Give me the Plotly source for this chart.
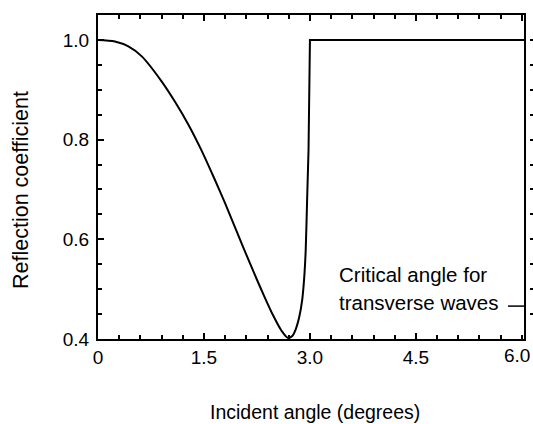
import plotly.graph_objects as go

# Data
# smooth part of the curve
angle_curve = [0.0, 0.24, 0.43, 0.62, 0.90, 1.09, 1.28, 1.46, 1.64, 1.80, 1.96, 2.15,
               2.34, 2.48, 2.60, 2.69, 2.75, 2.80, 2.85, 2.89, 2.92, 2.94, 2.96, 2.98]
refl_curve = [1.0, 0.997, 0.987, 0.967, 0.917, 0.876, 0.830, 0.780, 0.724, 0.672,
              0.617, 0.552, 0.490, 0.447, 0.416, 0.402, 0.406, 0.420, 0.445, 0.478,
              0.525, 0.578, 0.679, 0.779]
# steep rise and the flat plateau (total reflection)
angle_flat = [2.98, 3.0, 6.03]
refl_flat = [0.779, 1.0, 1.0]

x_tickvals = [0, 1.5, 3.0, 4.5, 6.0]
x_ticktext = ["0", "1.5", "3.0", "4.5", ""]
last_tick_label = "6.0"
y_tickvals = [0.4, 0.6, 0.8, 1.0]
y_ticktext = ["0.4", "0.6", "0.8", "1.0"]

critical_angle = 6.03
x_max = 6.03
y_min, y_max = 0.4, 1.05

FONT = "Liberation Sans, Arial, Helvetica, sans-serif"
PAPER_W = 435.0
PAPER_H = 324.0
DOM = 426 / PAPER_W


def px(xp):
    return (xp - 98) / PAPER_W


def py(yp):
    return (339 - yp) / PAPER_H


fig = go.Figure()
fig.add_trace(go.Scatter(x=angle_curve, y=refl_curve, mode="lines",
                         line=dict(color="black", width=2, shape="spline", smoothing=0.8),
                         showlegend=False, hoverinfo="skip"))
fig.add_trace(go.Scatter(x=angle_flat, y=refl_flat, mode="lines",
                         line=dict(color="black", width=2),
                         showlegend=False, hoverinfo="skip"))
# invisible traces to activate the extra tick axes
fig.add_trace(go.Scatter(x=[0], y=[y_min], yaxis="y2", mode="markers",
                         marker=dict(opacity=0), showlegend=False, hoverinfo="skip"))
fig.add_trace(go.Scatter(x=[0], y=[y_min], xaxis="x2", mode="markers",
                         marker=dict(opacity=0), showlegend=False, hoverinfo="skip"))

tick_common = dict(ticks="inside", tickwidth=1.5, tickcolor="black",
                   showgrid=False, zeroline=False, automargin=False)
x_minor = [round(0.3*i, 2) for i in range(1, 21)]
y_minor = [round(0.4 + 0.05*i, 2) for i in range(1, 13)]

fig.update_layout(
    width=533, height=424,
    margin=dict(l=98, r=0, t=15, b=85),
    paper_bgcolor="white", plot_bgcolor="white",
    font=dict(family=FONT, size=19, color="black"),
    xaxis=dict(range=[0, x_max], domain=[0, DOM],
               tickvals=x_tickvals, ticktext=x_ticktext, ticklen=6,
               minor=dict(tickvals=x_minor, ticks="inside", ticklen=4,
                          tickwidth=1.5, tickcolor="black"),
               showline=True, linecolor="black", linewidth=2,
               tickfont=dict(size=19),
               **tick_common),
    xaxis2=dict(range=[0, x_max], domain=[0, DOM], overlaying="x", side="top",
                anchor="y", showticklabels=False,
                tickvals=x_tickvals, ticklen=6,
                minor=dict(tickvals=x_minor, ticks="inside", ticklen=4,
                           tickwidth=1.5, tickcolor="black"),
                showline=True, linecolor="black", linewidth=2,
                **tick_common),
    yaxis=dict(range=[y_min, y_max],
               tickvals=y_tickvals, ticktext=y_ticktext, ticklen=6,
               minor=dict(tickvals=y_minor, ticks="inside",
                          ticklen=4, tickwidth=1.5, tickcolor="black"),
               showline=True, linecolor="black", linewidth=2, mirror=True,
               ticklabelstandoff=3, tickfont=dict(size=19),
               **tick_common),
    yaxis2=dict(range=[y_min, y_max], overlaying="y", anchor="free", position=1.0,
                side="right", showline=False, showticklabels=False,
                tick0=0.4, dtick=0.05, ticks="inside", ticklen=3, tickwidth=1.5,
                tickcolor="black", showgrid=False, zeroline=False, automargin=False),
)

# last x tick label, kept inside the page
fig.add_annotation(text=last_tick_label, xref="paper", yref="paper",
                   x=px(532), y=py(355), showarrow=False,
                   xanchor="right", yanchor="middle", font=dict(size=19))
fig.add_annotation(text="Reflection coefficient", xref="paper", yref="paper",
                   x=px(21), y=py(190), textangle=-90, showarrow=False,
                   xanchor="center", yanchor="middle", font=dict(size=21.5))
fig.add_annotation(text="Incident angle (degrees)", xref="paper", yref="paper",
                   x=px(315), y=py(412), showarrow=False,
                   xanchor="center", yanchor="middle", font=dict(size=19.5))
fig.add_annotation(text="Critical angle for", xref="x", yref="paper",
                   x=(337-98)/70.65, y=py(274), showarrow=False,
                   xanchor="left", yanchor="middle", font=dict(size=20.5))
fig.add_annotation(text="transverse waves", xref="x", yref="paper",
                   x=(337-98)/70.65, y=py(302), showarrow=False,
                   xanchor="left", yanchor="middle", font=dict(size=20.5))
fig.add_shape(type="line", xref="x", yref="y",
              x0=(508-98)/70.65, x1=critical_angle, y0=0.466, y1=0.466,
              line=dict(color="black", width=1.5))

fig.write_html("out.html")
